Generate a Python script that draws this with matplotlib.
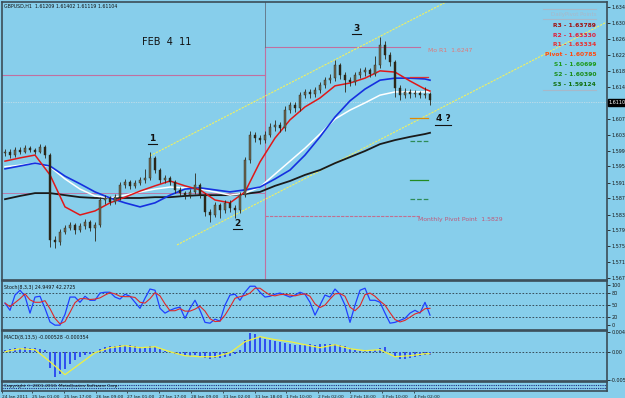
import numpy as np
import matplotlib
matplotlib.use('Agg')
import matplotlib.pyplot as plt
import matplotlib.transforms as mtransforms

# ---------------- data ----------------
closes = [1.5988,1.5980,1.5993,1.5988,1.5997,1.5993,1.5988,1.6000,1.5980,1.5770,
          1.5765,1.5790,1.5800,1.5807,1.5795,1.5805,1.5815,1.5800,1.5807,1.5869,
          1.5874,1.5864,1.5876,1.5906,1.5913,1.5904,1.5911,1.5918,1.5923,1.5973,
          1.5943,1.5918,1.5923,1.5913,1.5894,1.5886,1.5881,1.5889,1.5906,1.5881,
          1.5839,1.5832,1.5857,1.5844,1.5862,1.5849,1.5844,1.5881,1.5968,1.6030,
          1.6022,1.6017,1.6030,1.6049,1.6054,1.6047,1.6091,1.6104,1.6096,1.6128,
          1.6136,1.6131,1.6141,1.6153,1.6165,1.6170,1.6202,1.6178,1.6165,1.6160,
          1.6178,1.6185,1.6190,1.6180,1.6202,1.6252,1.6227,1.6210,1.6146,1.6128,
          1.6136,1.6131,1.6133,1.6128,1.6131,1.6116]
highs = [1.5996,1.5994,1.6000,1.5999,1.6004,1.6003,1.5998,1.6008,1.6004,1.5984,
         1.5780,1.5798,1.5808,1.5815,1.5812,1.5812,1.5822,1.5820,1.5814,1.5876,
         1.5882,1.5880,1.5884,1.5914,1.5920,1.5918,1.5918,1.5925,1.5945,1.5987,
         1.5978,1.5948,1.5932,1.5928,1.5918,1.5900,1.5892,1.5896,1.5936,1.5912,
         1.5886,1.5846,1.5864,1.5862,1.5870,1.5868,1.5856,1.5888,1.5976,1.6040,
         1.6038,1.6030,1.6040,1.6058,1.6066,1.6062,1.6100,1.6112,1.6110,1.6136,
         1.6144,1.6142,1.6148,1.6160,1.6172,1.6180,1.6215,1.6208,1.6184,1.6172,
         1.6186,1.6194,1.6198,1.6196,1.6225,1.6272,1.6262,1.6234,1.6216,1.6152,
         1.6146,1.6142,1.6140,1.6138,1.6148,1.6136]
lows = [1.5978,1.5972,1.5976,1.5982,1.5984,1.5987,1.5982,1.5985,1.5972,1.5752,
        1.5750,1.5758,1.5784,1.5794,1.5786,1.5789,1.5798,1.5792,1.5768,1.5802,
        1.5860,1.5856,1.5858,1.5870,1.5898,1.5896,1.5898,1.5905,1.5912,1.5918,
        1.5936,1.5910,1.5912,1.5905,1.5886,1.5878,1.5872,1.5874,1.5884,1.5874,
        1.5830,1.5815,1.5826,1.5825,1.5838,1.5840,1.5824,1.5838,1.5876,1.5960,
        1.6012,1.6008,1.6010,1.6024,1.6040,1.6036,1.6040,1.6084,1.6086,1.6090,
        1.6120,1.6122,1.6124,1.6134,1.6146,1.6158,1.6164,1.6168,1.6136,1.6150,
        1.6154,1.6170,1.6176,1.6172,1.6176,1.6196,1.6218,1.6200,1.6124,1.6116,
        1.6120,1.6122,1.6124,1.6120,1.6122,1.6104]
first_open = 1.5985

ma_idx = [0,3,6,9,12,15,18,21,24,27,30,33,36,39,42,45,48,51,54,57,60,63,66,69,72,75,78,81,84,85]
ma_red = [1.5965,1.5973,1.5980,1.5931,1.5852,1.5832,1.5842,1.5862,1.5876,1.5891,
          1.5904,1.5916,1.5904,1.5894,1.5869,1.5862,1.5889,1.5963,1.6022,1.6067,
          1.6099,1.6121,1.6151,1.6158,1.6170,1.6188,1.6185,1.6163,1.6143,1.6138]
ma_blue = [1.5946,1.5953,1.5960,1.5953,1.5928,1.5909,1.5889,1.5874,1.5862,1.5852,
           1.5862,1.5881,1.5896,1.5899,1.5894,1.5889,1.5894,1.5901,1.5921,1.5943,
           1.5980,1.6025,1.6074,1.6114,1.6143,1.6165,1.6170,1.6170,1.6168,1.6165]
ma_white = [1.5951,1.5955,1.5960,1.5951,1.5921,1.5896,1.5879,1.5874,1.5881,1.5889,
            1.5896,1.5901,1.5899,1.5896,1.5889,1.5881,1.5886,1.5901,1.5933,1.5965,
            1.5997,1.6032,1.6069,1.6091,1.6109,1.6128,1.6136,1.6136,1.6136,1.6136]
ma_black = [1.5871,1.5879,1.5886,1.5886,1.5881,1.5876,1.5874,1.5874,1.5874,1.5874,
            1.5876,1.5876,1.5879,1.5881,1.5881,1.5881,1.5884,1.5889,1.5904,1.5916,
            1.5931,1.5943,1.5960,1.5975,1.5990,1.6007,1.6017,1.6025,1.6032,1.6035]

stoch_main = [55,37,75,87,72,30,70,72,42,8,
              0,0,27,70,70,57,72,62,62,80,
              82,82,70,65,77,72,57,42,67,90,
              87,42,30,37,42,45,17,42,62,37,
              7,5,15,10,50,75,77,62,82,97,
              97,82,70,72,77,80,75,70,75,82,
              77,57,25,50,75,70,90,77,50,7,
              50,87,92,62,62,57,30,5,7,12,
              17,30,37,30,57,25]
stoch_signal = [55,46,56,66,78,63,57,57,61,41,
                17,3,9,32,56,66,66,64,65,68,
                75,81,78,72,71,71,69,57,55,66,
                81,73,53,36,36,41,35,35,40,47,
                35,16,9,10,25,45,67,71,74,80,
                92,92,83,75,73,76,77,75,73,76,
                78,72,53,44,50,65,78,79,72,45,
                36,48,76,80,72,60,50,31,14,8,
                12,20,28,32,41,42]

macd_hist = [0.47,0.67,0.88,0.88,1.08,0.88,0.88,0.67,0.47,-3.21,
             -5.05,-4.44,-3.42,-2.39,-1.57,-0.96,-0.55,-0.35,-0.14,0.67,
             1.08,1.29,1.29,1.49,1.49,1.49,1.29,1.08,0.88,1.29,
             1.08,0.67,0.27,0.06,-0.35,-0.55,-0.55,-0.76,-0.55,-0.76,
             -1.17,-1.37,-1.17,-1.17,-0.96,-0.76,-0.35,0.47,2.52,3.95,
             3.74,3.13,2.72,2.52,2.31,2.11,1.90,1.70,1.49,1.49,
             1.49,1.70,1.49,1.70,1.70,1.70,1.70,1.49,1.29,0.88,
             0.47,0.27,0.27,0.27,0.47,0.88,1.08,0.06,-0.96,-1.37,
             -1.37,-1.17,-0.96,-0.76,-0.55,-0.53]   # x 1e-3
macd_signal = [0.06,0.67,0.47,-1.98,-4.64,-2.39,-0.14,0.88,1.29,0.88,
               1.08,0.06,-0.76,-0.96,-0.96,-0.14,2.11,3.13,2.52,2.11,
               1.49,0.88,1.49,0.67,0.27,0.47,-0.96,-0.76,-0.35,-0.354]  # x 1e-3, at ma_idx

# channel trend lines (bar index, price)
chan_up_x = [29.0, 88.2]
chan_up_y = [1.5978, 1.6358]
chan_lo_x = [34.4, 120.4]
chan_lo_y = [1.5758, 1.6309]

# monthly levels
month_split = 52.0
prev_mo_r1 = 1.6178
prev_mo_pp = 1.5886
mo_r1 = 1.6247
mo_pp = 1.5829

# daily pivot short markers (price, colour, style)
day_marks = [(1.6173, '#e03030', '-'), (1.6072, '#e08a00', '-'), (1.6015, '#2e8b57', '--'),
             (1.5918, '#228b22', '-'), (1.5872, '#2e8b57', '--')]

pivot_labels = ["R3 - 1.63789", "R2 - 1.63330", "R1 - 1.63334", "Pivot - 1.60785",
                "S1 - 1.60699", "S2 - 1.60390", "S3 - 1.59124"]
pivot_colors = ['#a01010', '#e0203c', '#e83030', '#ff4a10', '#1e9a1e', '#1a8c1a', '#107010']

main_ticks = [1.63460, 1.63060, 1.62670, 1.62270, 1.61880, 1.61490, 1.60700, 1.60300,
              1.59910, 1.59520, 1.59120, 1.58730, 1.58330, 1.57940, 1.57550, 1.57150, 1.56760]
current_price = 1.61104

time_labels = ["24 Jan 2011", "25 Jan 01:00", "25 Jan 17:00", "26 Jan 09:00", "27 Jan 01:00",
               "27 Jan 17:00", "28 Jan 09:00", "31 Jan 02:00", "31 Jan 18:00", "1 Feb 10:00",
               "2 Feb 02:00", "2 Feb 18:00", "3 Feb 10:00", "4 Feb 02:00"]

wave_labels = ["1", "2", "3", "4 ?"]
wave_pos = [(29.4, 1.6010), (46.4, 1.5801), (70.2, 1.6281), (87.6, 1.6058)]

# ---------------- layout ----------------
W, H = 625, 398
BG = '#87ceeb'
FRAME = '#3b4d58'
fig = plt.figure(figsize=(W/100, H/100), dpi=100)
fig.patch.set_facecolor(BG)
plt.rcParams['font.family'] = ['DejaVu Sans']

XMIN, XMAX = -0.6, 120.4

def make_ax(top, bottom):
    ax = fig.add_axes([2/W, 1-bottom/H, 605/W, (bottom-top)/H])
    ax.set_facecolor(BG)
    ax.set_xlim(XMIN, XMAX)
    for s in ax.spines.values():
        s.set_color(FRAME)
        s.set_linewidth(1.2)
    ax.set_xticks([])
    ax.yaxis.tick_right()
    ax.tick_params(axis='y', labelsize=3.5, length=2, pad=1, colors='#1a1a1a', width=0.6)
    return ax

ax = make_ax(2, 280)
ax_s = make_ax(281, 330)
ax_m = make_ax(331, 381)
ax_b = make_ax(382, 391)

# ---------------- main panel ----------------
n = len(closes)
xs = np.arange(n)
opens = [first_open] + closes[:-1]
ax.set_ylim(1.56714, 1.63581)
ax.set_yticks(main_ticks)
ax.set_yticklabels([f"{t:.5f}" for t in main_ticks])

# monthly level lines
ax.plot([XMIN, month_split], [prev_mo_r1]*2, color='#c070a0', lw=0.8)
ax.plot([XMIN, month_split], [prev_mo_pp]*2, color='#c070a0', lw=0.6)
ax.plot([month_split, 83], [mo_r1]*2, color='#c070a0', lw=0.8)
ax.plot([month_split, 83], [mo_pp]*2, color='#c07090', lw=0.8, ls=(0, (3, 1)))
ax.plot([month_split]*2, [1.56714, mo_r1], color='#c070a0', lw=0.8)
ax.plot([month_split]*2, [mo_r1, 1.63581], color='#607080', lw=0.6)
ax.text(82.5, mo_pp - 0.0002, "Monthly Pivot Point  1.5829", fontsize=4.4, color='#c05878',
        va='top', ha='left')
ax.text(84.5, mo_r1 - 0.0002, "Mo R1  1.6247", fontsize=4.4, color='#e07878',
        va='top', ha='left')

# current price dotted line
ax.axhline(current_price, color='#e8e8e8', lw=0.5, ls=(0, (1, 1.5)))

# channels
ax.plot(chan_up_x, chan_up_y, color='#f0f060', lw=0.8, ls=(0, (2, 1)))
ax.plot(chan_lo_x, chan_lo_y, color='#f0f060', lw=0.8, ls=(0, (2, 1)))

# moving averages
ax.plot(ma_idx, ma_black, color='#1a1a1a', lw=1.3)
ax.plot(ma_idx, ma_white, color='white', lw=1.1)
ax.plot(ma_idx, ma_blue, color='#1530e0', lw=1.2)
ax.plot(ma_idx, ma_red, color='#e01818', lw=1.1)

# candles
for i in range(n):
    o, c = opens[i], closes[i]
    col = '#6b6650' if c >= o else '#2b2618'
    ax.vlines(xs[i], lows[i], highs[i], color='#2b2618', lw=0.6, zorder=3)
    ax.bar(xs[i], max(abs(c - o), 0.00008), bottom=min(o, c), width=0.55,
           color=col, edgecolor='#2b2618', linewidth=0.3, zorder=3)

# daily pivot markers
for price, col, ls in day_marks:
    ax.plot([81, 84.6], [price]*2, color=col, lw=0.9, ls=ls)

# wave labels
for lab, (x, y) in zip(wave_labels, wave_pos):
    ax.text(x, y, lab, fontsize=6.5, color='#111111', ha='center', va='bottom',
            fontweight='bold')
    half = 0.9 * len(lab) ** 0.5
    ax.plot([x - half, x + half], [y - 0.0003]*2, color='#111111', lw=0.8)

ax.text(0.232, 0.855, "FEB  4  11", transform=ax.transAxes, fontsize=7, color='#111111',
        ha='left', va='center')
ax.text(0.003, 0.992, "GBPUSD,H1  1.61209 1.61402 1.61119 1.61104", transform=ax.transAxes,
        fontsize=3.4, color='#111111', ha='left', va='top')

# pivot text block
tr = ax.transAxes
ax.text(0.982, 0.955, "DailyPivot Points", transform=tr, fontsize=4.0, color='#a8b8c8',
        ha='right', va='center')
for k, (lab, col) in enumerate(zip(pivot_labels, pivot_colors)):
    ax.text(0.982, 0.917 - k * 0.0358, lab, transform=tr, fontsize=4.3, color=col,
            ha='right', va='center', fontweight='bold')
for yy in (0.975, 0.938, 0.683):
    ax.plot([0.895, 0.982], [yy, yy], transform=tr, color='#a8b8c8', lw=0.8)

# current price label box
btr = mtransforms.blended_transform_factory(ax.transAxes, ax.transData)
ax.text(1.003, current_price, "1.61104", transform=btr, fontsize=3.5, color='white',
        ha='left', va='center', bbox=dict(boxstyle='square,pad=0.15', fc='black', ec='black'),
        clip_on=False, zorder=10)

# ---------------- stochastic ----------------
ax_s.set_ylim(-12, 110)
ax_s.set_yticks([100, 80, 50, 20, 0])
ax_s.set_yticklabels(['100', '80', '50', '20', '0'])
for lv in (80, 50, 20):
    ax_s.axhline(lv, color='#2a3a44', lw=0.6, ls=(0, (2, 2)))
ax_s.plot(xs, stoch_main, color='#2040ff', lw=0.9)
ax_s.plot(xs, stoch_signal, color='#e02828', lw=0.8)
ax_s.text(0.003, 0.92, "Stoch(8,3,3) 24.9497 42.2725", transform=ax_s.transAxes, fontsize=3.4,
          color='#111111', ha='left', va='top')

# ---------------- MACD ----------------
ax_m.set_ylim(-5.93, 4.3)
ax_m.set_yticks([4.09, 0.0, -5.64])
ax_m.set_yticklabels(['0.00409', '0.00', '-0.00564'])
ax_m.axhline(0, color='#2a3a44', lw=0.6, ls=(0, (2, 2)))
ax_m.bar(xs, macd_hist, width=0.4, color='#3050f0', zorder=2)
ax_m.plot(ma_idx, macd_signal, color='#f0f040', lw=0.9, zorder=3)
ax_m.text(0.003, 0.92, "MACD(8,13,5) -0.000528 -0.000354", transform=ax_m.transAxes,
          fontsize=3.4, color='#111111', ha='left', va='top')

# ---------------- bottom strip + time axis ----------------
ax_b.set_ylim(0, 1)
ax_b.set_yticks([])
ax_b.plot([XMIN, XMAX], [0.65, 0.65], color='#1a2a80', lw=0.8, ls=(0, (1, 1)))
ax_b.plot([XMIN, XMAX], [0.3, 0.3], color='#1a2a80', lw=0.8, ls=(0, (1, 1)))
ax_b.text(0.003, 0.5, "Copyright \u00a9 2001-2010, MetaQuotes Software Corp.", transform=ax_b.transAxes,
          fontsize=3.2, color='#111111', ha='left', va='center')
tick_pos = [XMIN] + [5.4 + 6.36 * k for k in range(len(time_labels) - 1)]
ax_b.set_xticks(tick_pos)
ax_b.set_xticklabels(time_labels, fontsize=3.2, ha='left', color='#1a1a1a')
ax_b.tick_params(axis='x', length=1.5, pad=1.2, width=0.5, colors='#1a1a1a')

fig.savefig('out.png', dpi=100, facecolor=BG)
